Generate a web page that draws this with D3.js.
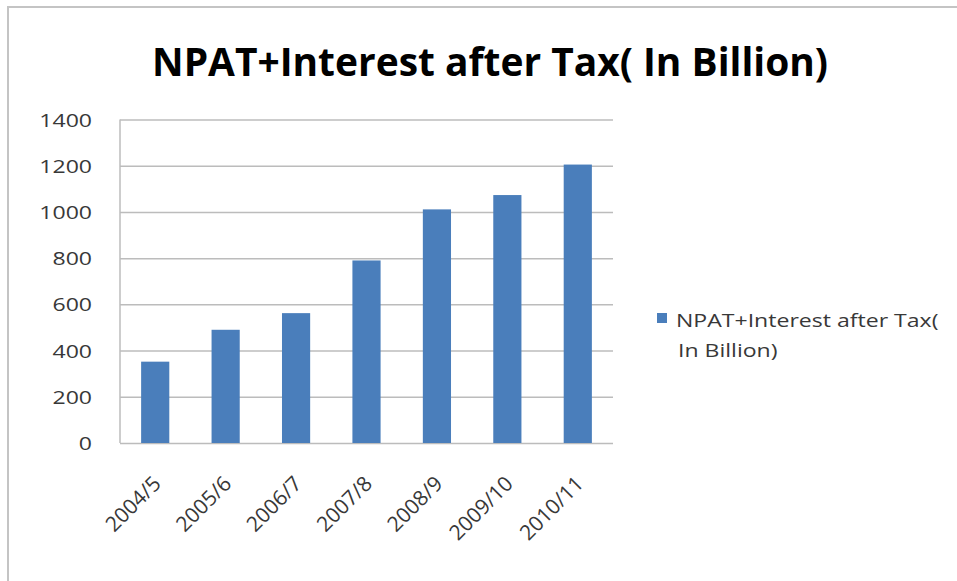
<!DOCTYPE html>
<html>
<head>
<meta charset="utf-8">
<script src="https://cdn.jsdelivr.net/npm/d3@7"></script>
<style>
  body { margin: 0; background: #fff; }
  svg { display: block; }
  text { font-family: "Open Sans", sans-serif; }
</style>
</head>
<body>
<svg id="chart" width="957" height="581"></svg>
<script>
const categories = ['2004/5', '2005/6', '2006/7', '2007/8', '2008/9', '2009/10', '2010/11']
const values = [352, 490, 562, 790, 1011, 1073, 1205]
const yTicks = [0, 200, 400, 600, 800, 1000, 1200, 1400]
const seriesName = 'NPAT+Interest after Tax( In Billion)'
const legendLines = ['NPAT+Interest after Tax(', 'In Billion)']

const barColor = '#4a7ebb'
const gridColor = '#bcbcbc'
const textColor = '#383838'
const stretch = 1.24

const svg = d3.select('#chart')

// outer frame (only top and left visible)
svg.append('rect')
    .attr('x', 8)
    .attr('y', 7)
    .attr('width', 980)
    .attr('height', 600)
    .attr('fill', '#fff')
    .attr('stroke', '#c4c4c4')
    .attr('stroke-width', 2)

const plot = { left: 120, right: 613, top: 119.5, bottom: 443 }

const x = d3.scaleBand()
    .domain(categories)
    .range([plot.left, plot.right])
    .paddingInner(0.6)
    .paddingOuter(0.3)

const y = d3.scaleLinear()
    .domain([0, 1400])
    .range([plot.bottom, plot.top])

// title
svg.append('text')
    .attr('x', 152)
    .attr('y', 76)
    .attr('textLength', 676)
    .attr('lengthAdjust', 'spacingAndGlyphs')
    .attr('font-size', 40)
    .attr('font-weight', 'bold')
    .attr('fill', '#000')
    .text(seriesName)

// gridlines + y labels
const yAxis = svg.append('g')
    .attr('transform', `translate(${plot.left},0)`)
    .call(d3.axisLeft(y)
        .tickValues(yTicks)
        .tickSize(-(plot.right - plot.left))
        .tickFormat(d3.format('d')))

yAxis.select('.domain').remove()
yAxis.selectAll('.tick line')
    .attr('stroke', gridColor)
    .attr('stroke-width', 1.5)
yAxis.selectAll('.tick text')
    .attr('x', 0)
    .attr('dy', '0.35em')
    .attr('transform', `translate(-28,0) scale(${stretch},1)`)
    .attr('text-anchor', 'end')
    .attr('font-size', 18.6)
    .attr('font-family', '"Open Sans", sans-serif')
    .attr('fill', textColor)

// vertical axis line
svg.append('line')
    .attr('x1', plot.left)
    .attr('x2', plot.left)
    .attr('y1', plot.top)
    .attr('y2', plot.bottom)
    .attr('stroke', gridColor)
    .attr('stroke-width', 1.5)

// bars
svg.append('g')
  .selectAll('rect')
  .data(values)
  .join('rect')
    .attr('x', (d, i) => x(categories[i]))
    .attr('y', d => y(d))
    .attr('width', x.bandwidth())
    .attr('height', d => y(0) - y(d))
    .attr('fill', barColor)

// x labels, rotated
svg.append('g')
  .selectAll('text')
  .data(categories)
  .join('text')
    .attr('transform', d => `translate(${x(d) + x.bandwidth() / 2 + 7},485) rotate(-45)`)
    .attr('text-anchor', 'end')
    .attr('font-size', 21)
    .attr('fill', textColor)
    .text(d => d)

// legend
svg.append('rect')
    .attr('x', 657)
    .attr('y', 313)
    .attr('width', 10)
    .attr('height', 10)
    .attr('fill', barColor)

svg.append('g')
  .selectAll('text')
  .data(legendLines)
  .join('text')
    .attr('transform', (d, i) => `translate(${i ? 678 : 676},${327 + i * 30}) scale(${stretch},1)`)
    .attr('font-size', 18.6)
    .attr('fill', textColor)
    .text(d => d)
</script>
</body>
</html>
